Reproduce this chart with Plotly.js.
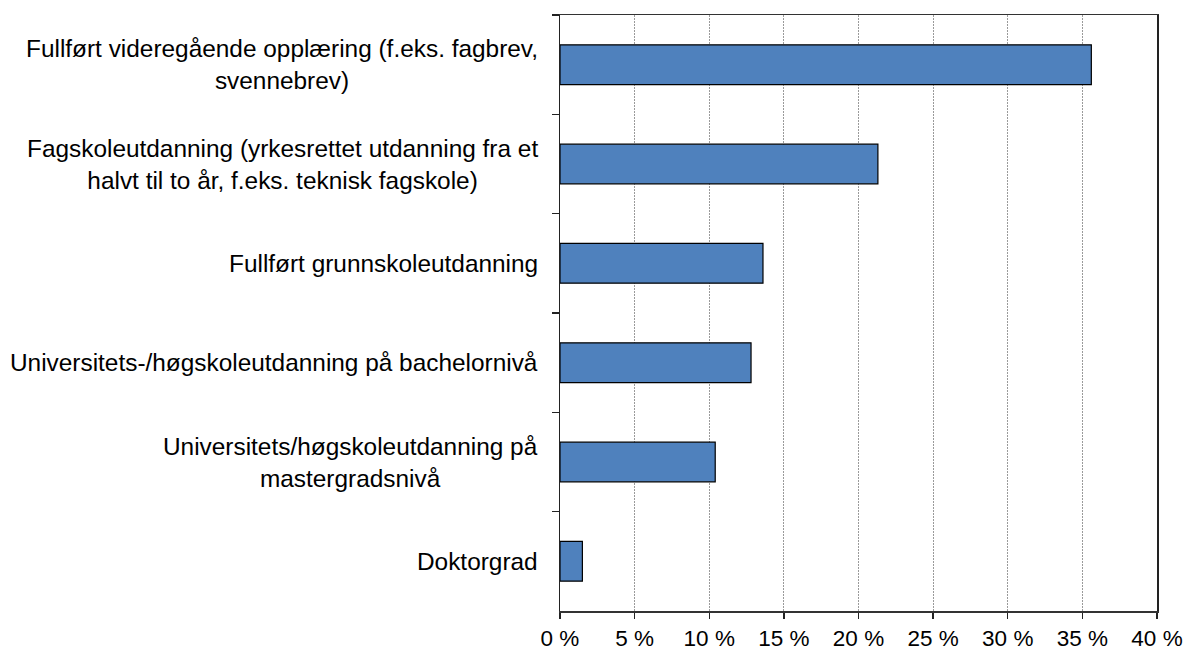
<!DOCTYPE html>
<html>
<head>
<meta charset="utf-8">
<script src="https://cdn.plot.ly/plotly-3.0.1.min.js"></script>
<style>html,body{margin:0;padding:0;background:#fff;}#chart{width:1185px;height:650px;}</style>
</head>
<body>
<div id="chart"></div>
<script>
const categories = [
  "Fullført videregående opplæring (f.eks. fagbrev,<br>svennebrev)",
  "Fagskoleutdanning (yrkesrettet utdanning fra et<br>halvt til to år, f.eks. teknisk fagskole)",
  "Fullført grunnskoleutdanning",
  "Universitets-/høgskoleutdanning på bachelornivå",
  "Universitets/høgskoleutdanning på<br>mastergradsnivå",
  "Doktorgrad"
];
const values = [35.6, 21.3, 13.6, 12.8, 10.4, 1.5];
const xTickValues = [0, 5, 10, 15, 20, 25, 30, 35, 40];
const xTickLabels = ["0 %", "5 %", "10 %", "15 %", "20 %", "25 %", "30 %", "35 %", "40 %"];

const FONT = "Liberation Sans, Arial, sans-serif";

const trace = {
  type: "bar",
  orientation: "h",
  y: categories,
  x: values,
  marker: { color: "#4F81BD", line: { color: "#000000", width: 1.2 } },
  hoverinfo: "x+y"
};

const annotations = categories.map(c => ({
  xref: "paper", yref: "y",
  x: 0, y: c,
  xanchor: "right", yanchor: "middle",
  xshift: -20,
  align: "center",
  showarrow: false,
  text: c,
  font: { family: FONT, size: 24.4, color: "#000" }
}));

const layout = {
  width: 1185, height: 650,
  margin: { l: 560, r: 28, t: 15, b: 39 },
  paper_bgcolor: "#fff",
  plot_bgcolor: "#fff",
  showlegend: false,
  bargap: 0.6,
  xaxis: {
    range: [0, 40],
    tickvals: xTickValues,
    ticktext: xTickLabels,
    ticks: "outside", ticklen: 6, tickcolor: "#222", tickwidth: 1.3,
    ticklabelstandoff: 0,
    showline: true, linecolor: "#333", linewidth: 1.5, mirror: true,
    showgrid: true, gridcolor: "#9a9a9a", gridwidth: 1, griddash: "2px,1px",
    zeroline: false,
    tickfont: { family: FONT, size: 22.5, color: "#000" },
    fixedrange: true
  },
  yaxis: {
    type: "category",
    autorange: "reversed",
    showticklabels: false,
    ticks: "outside", ticklen: 7, tickcolor: "#222", tickwidth: 1.3,
    tickson: "boundaries",
    showline: true, linecolor: "#222", linewidth: 1.5, mirror: true,
    showgrid: false, zeroline: false,
    fixedrange: true
  },
  annotations: annotations
};

Plotly.newPlot("chart", [trace], layout, { displayModeBar: false, staticPlot: true });
</script>
</body>
</html>
